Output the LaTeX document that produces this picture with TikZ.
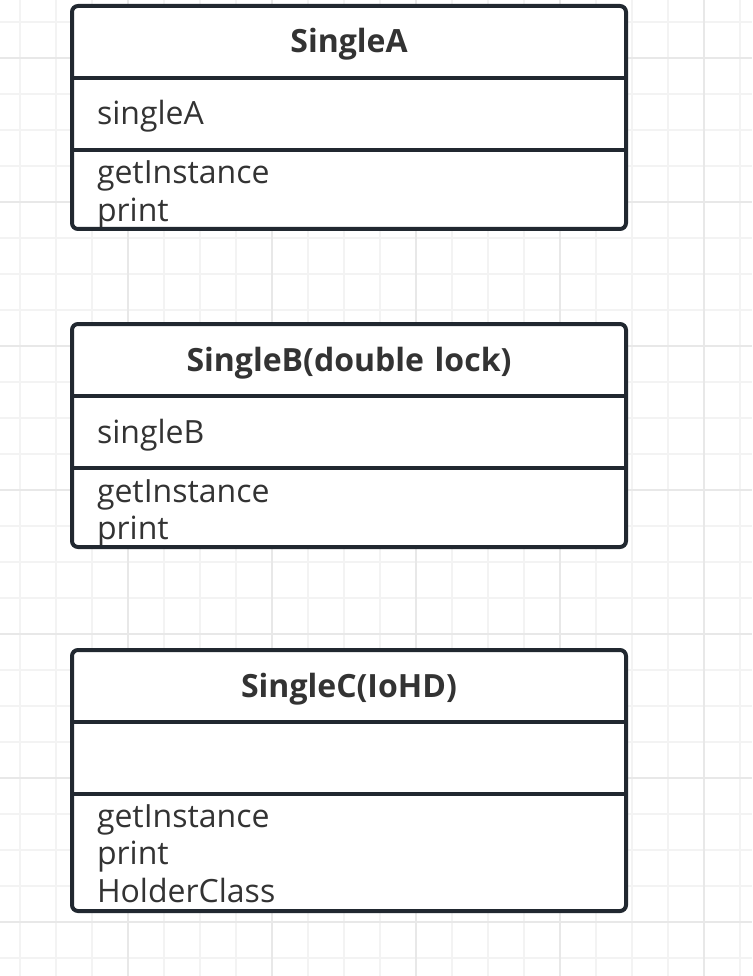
\documentclass[tikz,border=0pt]{standalone}
\usepackage{fontspec}
\setmainfont{Open Sans}
\usetikzlibrary{positioning, backgrounds}

\definecolor{umlline}{HTML}{212830}
\definecolor{umltext}{HTML}{333333}
\definecolor{gridminor}{HTML}{F3F3F3}
\definecolor{gridmajor}{HTML}{E8E8E8}

\begin{document}
\begin{tikzpicture}[
    x=1pt, y=-1pt,
    node distance=0pt,
    umlpart/.style={
        rectangle, inner xsep=25pt, inner ysep=0pt, outer sep=0pt,
        minimum width=554pt, text width=504pt, text=umltext,
        font=\fontsize{32}{37.5}\selectfont
    },
    umlhead/.style={umlpart, minimum height=72pt, align=center,
        text height=30pt, text depth=8pt,
        font=\fontsize{32}{37.5}\selectfont\bfseries},
    umlattr/.style={umlpart, minimum height=72pt, align=left,
        text height=30pt, text depth=8pt},
    umlops/.style={umlpart, align=left, text height=28pt},
    umlframe/.style={draw=umlline, line width=4pt, rounded corners=6pt},
    umldivider/.style={draw=umlline, line width=3.4pt}
]

\useasboundingbox (0,0) rectangle (752,976);

% background grid
\begin{scope}[on background layer]
    \fill[white] (0,0) rectangle (752,976);
    \foreach \gx in {20,56,...,740}
        \draw[gridminor, line width=1.2pt] (\gx,0) -- (\gx,976);
    \foreach \gy in {22,58,...,958}
        \draw[gridminor, line width=1.2pt] (0,\gy) -- (752,\gy);
    \foreach \gx in {128,272,...,704}
        \draw[gridmajor, line width=1.4pt] (\gx,0) -- (\gx,976);
    \foreach \gy in {58,202,...,922}
        \draw[gridmajor, line width=1.4pt] (0,\gy) -- (752,\gy);
\end{scope}

% SingleA
\node[umlhead] (headA) at (349,42) {SingleA};
\node[umlattr, below=of headA] (attrA) {singleA};
\node[umlops, minimum height=79pt, text depth=39pt, below=of attrA] (opsA) {getInstance\\print};

% SingleB
\node[umlhead, below=95pt of opsA] (headB) {SingleB(double lock)};
\node[umlattr, below=of headB] (attrB) {singleB};
\node[umlops, minimum height=79pt, text depth=39pt, below=of attrB] (opsB) {getInstance\\print};

% SingleC
\node[umlhead, below=103pt of opsB] (headC) {SingleC(IoHD)};
\node[umlattr, below=of headC] (attrC) {};
\node[umlops, minimum height=117pt, text depth=79pt, below=of attrC] (opsC) {getInstance\\print\\HolderClass};

% class frames and compartment lines
\foreach \k in {A,B,C} {
    \begin{scope}[on background layer]
        \fill[white, rounded corners=6pt] (head\k.north west) rectangle (ops\k.south east);
    \end{scope}
    \draw[umlframe] (head\k.north west) rectangle (ops\k.south east);
    \draw[umldivider] (attr\k.north west) -- (attr\k.north east);
    \draw[umldivider] (ops\k.north west) -- (ops\k.north east);
}

\end{tikzpicture}
\end{document}
